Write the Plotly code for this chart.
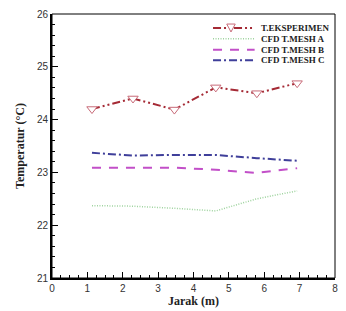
import plotly.graph_objects as go

jarak = [1.13, 2.29, 3.46, 4.63, 5.79, 6.93]
t_eksperimen = [24.2, 24.4, 24.19, 24.61, 24.5, 24.69]
mesh_a = [22.37, 22.36, 22.32, 22.27, 22.5, 22.65]
mesh_b = [23.09, 23.09, 23.09, 23.05, 22.99, 23.08]
mesh_c = [23.37, 23.32, 23.33, 23.33, 23.27, 23.22]

names = ["T.EKSPERIMEN", "CFD T.MESH A", "CFD T.MESH B", "CFD T.MESH C"]
colors = ["#A52A35", "#9ED39E", "#C24FC8", "#3F3F9A"]
dashes = ["8px,3px,2px,3px,2px,3px", "1px,1.5px", "9px,8px", "8px,3px,2px,3px"]
widths = [2, 1.5, 2, 2]
marker_color = "#C86A78"

fig = go.Figure()
series = [t_eksperimen, mesh_a, mesh_b, mesh_c]
for i, ys in enumerate(series):
    kw = {}
    if i == 0:
        mode = "lines+markers"
        kw["marker"] = dict(symbol="triangle-down", size=9, color="white",
                            line=dict(color=marker_color, width=1))
    else:
        mode = "lines"
    fig.add_trace(go.Scatter(x=jarak, y=ys, mode=mode, name=names[i],
                             line=dict(color=colors[i], dash=dashes[i], width=widths[i]),
                             showlegend=False, **kw))

# manual legend
leg_y = [0.947, 0.906, 0.865, 0.825]
x0, x1, xt = 0.569, 0.716, 0.733
shapes = []
annotations = []
for i in range(4):
    shapes.append(dict(type="line", xref="paper", yref="paper", x0=x0, x1=x1,
                       y0=leg_y[i], y1=leg_y[i],
                       line=dict(color=colors[i], dash=dashes[i], width=widths[i])))
    annotations.append(dict(xref="paper", yref="paper", x=xt, y=leg_y[i],
                            text="<b>" + names[i] + "</b>",
                            showarrow=False, xanchor="left", yanchor="middle",
                            font=dict(family="Liberation Serif", size=9, color="#222")))
# marker in legend sample
cx, cy = (x0 + x1) / 2 - 0.01, leg_y[0]
dx, dy = 0.015, 0.015
shapes.append(dict(type="path", xref="paper", yref="paper",
                   path=f"M {cx-dx} {cy+dy} L {cx+dx} {cy+dy} L {cx} {cy-dy} Z",
                   fillcolor="white", line=dict(color=marker_color, width=1)))
# frame
shapes.append(dict(type="rect", xref="paper", yref="paper", x0=0, x1=1, y0=0, y1=1,
                   line=dict(color="black", width=1)))

fig.update_layout(
    width=346, height=311,
    margin=dict(l=52, r=8, t=12, b=31),
    paper_bgcolor="white", plot_bgcolor="white",
    shapes=shapes, annotations=annotations,
    font=dict(family="Liberation Sans", size=10, color="#333"),
)
fig.update_xaxes(range=[0, 8], dtick=1, ticks="inside", ticklen=6, tickwidth=1,
                 tickcolor="black", showline=True, linewidth=2, linecolor="black",
                 showgrid=False, zeroline=False,
                 minor=dict(dtick=0.25, ticks="inside", ticklen=3, tickcolor="black"),
                 title=dict(text="<b>Jarak (m)</b>", standoff=1,
                            font=dict(family="Liberation Serif", size=12, color="#222")))
fig.update_yaxes(range=[21, 26], dtick=1, ticks="inside", ticklen=6, tickwidth=1,
                 tickcolor="black", showline=True, linewidth=2, linecolor="black",
                 showgrid=False, zeroline=False,
                 minor=dict(dtick=0.2, ticks="inside", ticklen=3, tickcolor="black"),
                 title=dict(text="<b>Temperatur (°C)</b>", standoff=10,
                            font=dict(family="Liberation Serif", size=12, color="#222")))

fig.write_html("out.html")
